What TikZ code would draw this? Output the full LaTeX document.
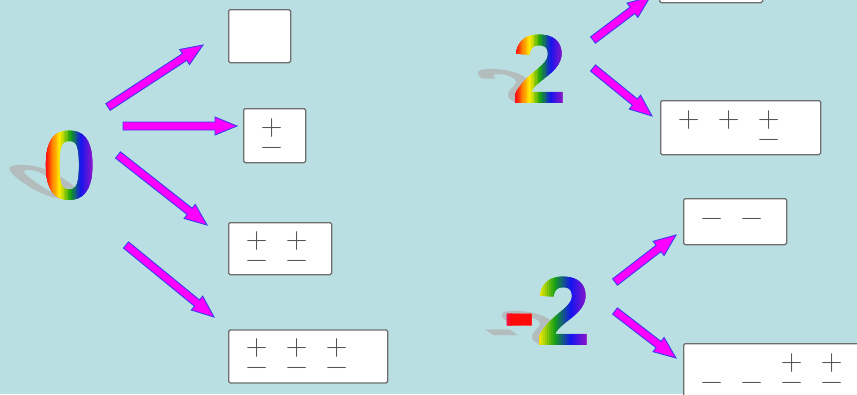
\documentclass[tikz,border=0pt]{standalone}
\usepackage{fontspec}
\newfontfamily\numfont{Liberation Sans}
\usepackage{xcolor}
\definecolor{pool}{HTML}{BADFE2}
\definecolor{boxEdge}{HTML}{6E6E6E}
\definecolor{signInk}{HTML}{555555}
\definecolor{arrowFill}{HTML}{FF00FF}
\definecolor{arrowEdge}{HTML}{3C3CF0}
\definecolor{shadeGray}{HTML}{B3BDBE}
\definecolor{rbMag}{HTML}{E0208C}
\definecolor{rbRed}{HTML}{FF0A0A}
\definecolor{rbOrange}{HTML}{FF8A00}
\definecolor{rbYellow}{HTML}{FFEE00}
\definecolor{rbGreen}{HTML}{14A014}
\definecolor{rbBlue}{HTML}{1414F0}
\definecolor{rbViolet}{HTML}{8C14C8}
\usepackage{tikz}
\usetikzlibrary{calc, positioning}

\newcommand{\bignum}{\numfont\bfseries\fontsize{98}{98}\selectfont}
\setlength{\tabcolsep}{9.2pt}
\newcommand{\signs}[3][0.5pt]{\raisebox{#1}[0pt][0pt]{\begin{tabular}[t]{@{}#2@{}}#3\end{tabular}}}

% colour stops (box fraction / colour) of the rainbow digits
\def\rainbowStops{0/0.08/rbMag/rbRed, 0.08/0.2/rbRed/rbOrange, 0.2/0.33/rbOrange/rbYellow,
  0.33/0.52/rbYellow/rbGreen, 0.52/0.71/rbGreen/rbBlue, 0.71/0.92/rbBlue/rbViolet, 0.92/1/rbViolet/rbViolet}
\def\negStops{0/0.1/rbMag/rbRed, 0.1/0.32/rbRed/rbRed, 0.32/0.42/rbRed/rbYellow,
  0.42/0.6/rbYellow/rbGreen, 0.6/0.78/rbGreen/rbBlue, 0.78/0.96/rbBlue/rbViolet, 0.96/1/rbViolet/rbViolet}

% rainbow digit: the glyph of node #1 redrawn in thin clipped strips
\newcommand{\rainbowdigit}[3]{%
  \foreach \fa/\fb/\ca/\cb [count=\s] in #3 {
    \foreach \k in {0,...,7} {
      \pgfmathsetmacro\ga{\fa+(\fb-\fa)*\k/8}
      \pgfmathsetmacro\gb{\fa+(\fb-\fa)*(\k+1)/8+0.015}
      \pgfmathtruncatemacro\pc{94-12.5*\k}
      \begin{scope}
        \clip ($(#1.south west)!\ga!(#1.south east)+(0,4)$) rectangle ($(#1.north west)!\gb!(#1.north east)+(0,-4)$);
        \node[numInk, text=\ca!\pc!\cb] (#1ink\s-\k) at (#1.base) {#2};
      \end{scope}
    }
  }}

% fat outlined arrow from #1 to #2
\newcommand{\fatarrow}[2]{%
  \coordinate (neck) at ($(#2)!22pt!(#1)$);
  \filldraw[fatArrow] ($(#1)!4pt!90:(#2)$) -- ($(neck)!4pt!90:(#2)$) -- ($(neck)!9pt!90:(#2)$) -- (#2)
    -- ($(neck)!9pt!-90:(#2)$) -- ($(neck)!4pt!-90:(#2)$) -- ($(#1)!4pt!-90:(#2)$) -- cycle;}

\begin{document}
\begin{tikzpicture}[
  x=1pt, y=-1pt,
  bignum/.style={font=\bignum, inner sep=0pt, anchor=base, text opacity=0},
  numInk/.style={font=\bignum, inner sep=0pt, anchor=base},
  numShadow/.style={numInk, text=shadeGray, transform shape},
  signbox/.style={draw=boxEdge, line width=1.3pt, fill=white, rounded corners=1.5pt, anchor=north west,
    inner xsep=17.3pt, inner ysep=0pt, text width=#1-34.6pt, minimum height=53pt, align=left,
    text=signInk, font=\fontsize{30}{22}\selectfont},
  fatArrow/.style={fill=arrowFill, draw=arrowEdge, line width=0.9pt, line join=miter},
]
\useasboundingbox (0,0) rectangle (857,394);
\clip (0,0) rectangle (857,394);
\fill[pool] (0,0) rectangle (857,394);

% ------------------- big numbers -------------------
\node[bignum] (zero) at (70,199) {0};
\node[bignum] (two) at (540,103) {2};
\node[bignum] (negtwo) at (547,345) {-2};

% slanted shadows behind them
\begin{scope}[shift={(zero.base)}, cm={1,0,-0.7,0.5,(0,0)}]
  \node[numShadow] (zeroShadow) at (0,0) {0};
\end{scope}
\begin{scope}[shift={(two.base)}, cm={1,0,-0.7,0.5,(0,0)}]
  \node[numShadow] (twoShadow) at (0,0) {2};
\end{scope}
\begin{scope}[shift={(negtwo.base)}, cm={1,0,-0.7,0.5,(0,0)}]
  \node[numShadow] (negtwoShadow) at (0,0) {-2};
\end{scope}

% rainbow glyphs
\rainbowdigit{zero}{0}{\rainbowStops}
\rainbowdigit{two}{2}{\rainbowStops}
\rainbowdigit{negtwo}{-2}{\negStops}

% ------------------- boxes for 0 -------------------
\node[signbox=62pt] (zeroA) at (228,9) {};
\node[signbox=62pt, minimum height=54pt] (zeroB) at (243,108) {\signs{c}{+\\[-2pt] −}};
\node[signbox=103pt, minimum height=52pt] (zeroC) at (228,222) {\signs{cc}{+ & +\\[-2pt] − & −}};
\node[signbox=159pt, below=54pt of zeroC.south west, anchor=north west] (zeroD)
  {\signs{ccc}{+ & + & +\\[-2pt] − & − & −}};

% ------------------- boxes for 2 and -2 ------------
\node[signbox=103pt, minimum height=52pt] (twoA) at (659,-50) {};
\node[signbox=160pt, minimum height=54pt] (twoB) at (660,100) {\signs{ccc}{+ & + & +\\[-2pt] & & −}};
\node[signbox=103pt, minimum height=46pt] (negtwoA) at (683,198) {\signs[-4.5pt]{cc}{− & −}};
\node[signbox=200pt, minimum height=54pt] (negtwoB) at (683,343)
  {\signs{cccc}{ & & + & +\\[-2pt] − & − & − & −}};

% ------------------- arrows ------------------------
\coordinate (zeroTail1) at (108,107); \coordinate (zeroTip1) at (203,45);
\coordinate (zeroTail2) at (123,126); \coordinate (zeroTip2) at (237,126);
\coordinate (zeroTail3) at (118,155); \coordinate (zeroTip3) at (207,225);
\coordinate (zeroTail4) at (126,245); \coordinate (zeroTip4) at (214,317);
\coordinate (twoTail1) at (593,40);  \coordinate (twoTip1) at (650,-3);
\coordinate (twoTail2) at (593,68);  \coordinate (twoTip2) at (652,116);
\coordinate (negtwoTail1) at (615,282); \coordinate (negtwoTip1) at (676,235);
\coordinate (negtwoTail2) at (615,311); \coordinate (negtwoTip2) at (676,358);

\fatarrow{zeroTail1}{zeroTip1}
\fatarrow{zeroTail2}{zeroTip2}
\fatarrow{zeroTail3}{zeroTip3}
\fatarrow{zeroTail4}{zeroTip4}
\fatarrow{twoTail1}{twoTip1}
\fatarrow{twoTail2}{twoTip2}
\fatarrow{negtwoTail1}{negtwoTip1}
\fatarrow{negtwoTail2}{negtwoTip2}

\end{tikzpicture}
\end{document}
